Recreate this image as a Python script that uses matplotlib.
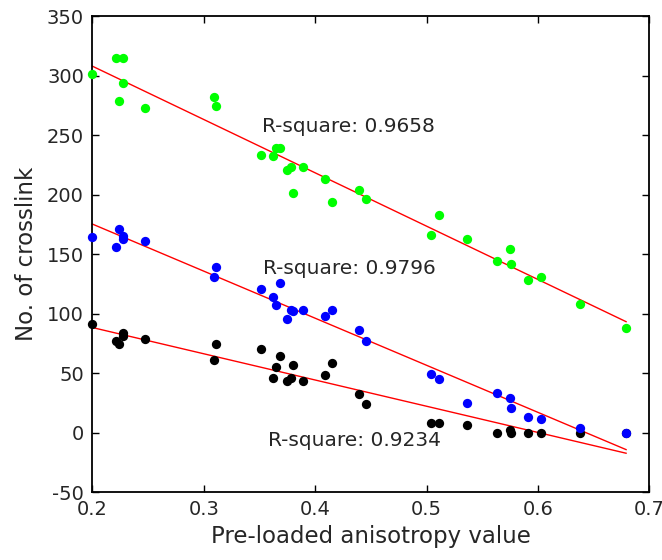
import numpy as np
import matplotlib
matplotlib.use("Agg")
import matplotlib.pyplot as plt

plt.rcParams["axes.unicode_minus"] = False

# pre-loaded anisotropy values (shared by the three series)
x = [0.200, 0.221, 0.224, 0.228, 0.228, 0.247, 0.309, 0.311, 0.351, 0.362,
     0.365, 0.368, 0.375, 0.378, 0.380, 0.389, 0.409, 0.415, 0.439, 0.446,
     0.504, 0.511, 0.536, 0.563, 0.575, 0.576, 0.591, 0.603, 0.638, 0.679]

green_y = [301, 315, 279, 315, 294, 273, 282, 274, 233, 232,
           239, 239, 221, 223, 201, 223, 213, 194, 204, 196,
           166, 183, 163, 144, 154, 142, 128, 131, 108, 88]

blue_y = [164, 156, 171, 165, 163, 161, 131, 139, 121, 114,
          107, 126, 95, 103, 102, 103, 98, 103, 86, 77,
          49, 45, 25, 33, 29, 21, 13, 11, 4, 0]

black_y = [91, 77, 74, 84, 81, 79, 61, 74, 70, 46,
           55, 64, 43, 46, 57, 43, 48, 58, 32, 24,
           8, 8, 6, 0, 2, 0, 0, 0, 0, 0]

r2_labels = ["R-square: 0.9658", "R-square: 0.9796", "R-square: 0.9234"]
r2_pos = [(0.352, 257), (0.353, 138), (0.358, -7)]

xticks = [0.2, 0.3, 0.4, 0.5, 0.6, 0.7]
yticks = [-50, 0, 50, 100, 150, 200, 250, 300, 350]

txt = "#262626"

fig = plt.figure(figsize=(6.62, 5.6), dpi=100)
ax = fig.add_axes([0.1394, 0.1214, 0.8417, 0.85])

xs = np.array(x)
xfit = np.array([xs.min(), xs.max()])
for ys, col in [(black_y, "black"), (blue_y, "#0000ff"), (green_y, "#00ff00")]:
    p = np.polyfit(xs, ys, 1)
    ax.plot(xfit, np.polyval(p, xfit), color="#ff0000", lw=1.0, zorder=2,
            clip_on=False)
for ys, col in [(black_y, "black"), (blue_y, "#0000ff"), (green_y, "#00ff00")]:
    ax.plot(xs, ys, "o", color=col, ms=6.7, mew=0, zorder=3, clip_on=False)

for lab, (tx, ty) in zip(r2_labels, r2_pos):
    ax.text(tx, ty, lab, fontsize=14.5, color=txt, va="center", ha="left")

ax.set_xlim(0.2, 0.7)
ax.set_ylim(-50, 350)
ax.set_xticks(xticks)
ax.set_yticks(yticks)
ax.set_xticklabels([str(t) for t in xticks])
ax.tick_params(direction="in", top=True, right=True, length=5, width=1,
               labelsize=14, labelcolor=txt, pad=6)
for s in ax.spines.values():
    s.set_linewidth(1.3)

ax.set_xlabel("Pre-loaded anisotropy value", fontsize=16.5, color=txt, labelpad=4)
ax.set_ylabel("No. of crosslink", fontsize=16.5, color=txt, labelpad=6)

fig.savefig("out.png", dpi=100)
